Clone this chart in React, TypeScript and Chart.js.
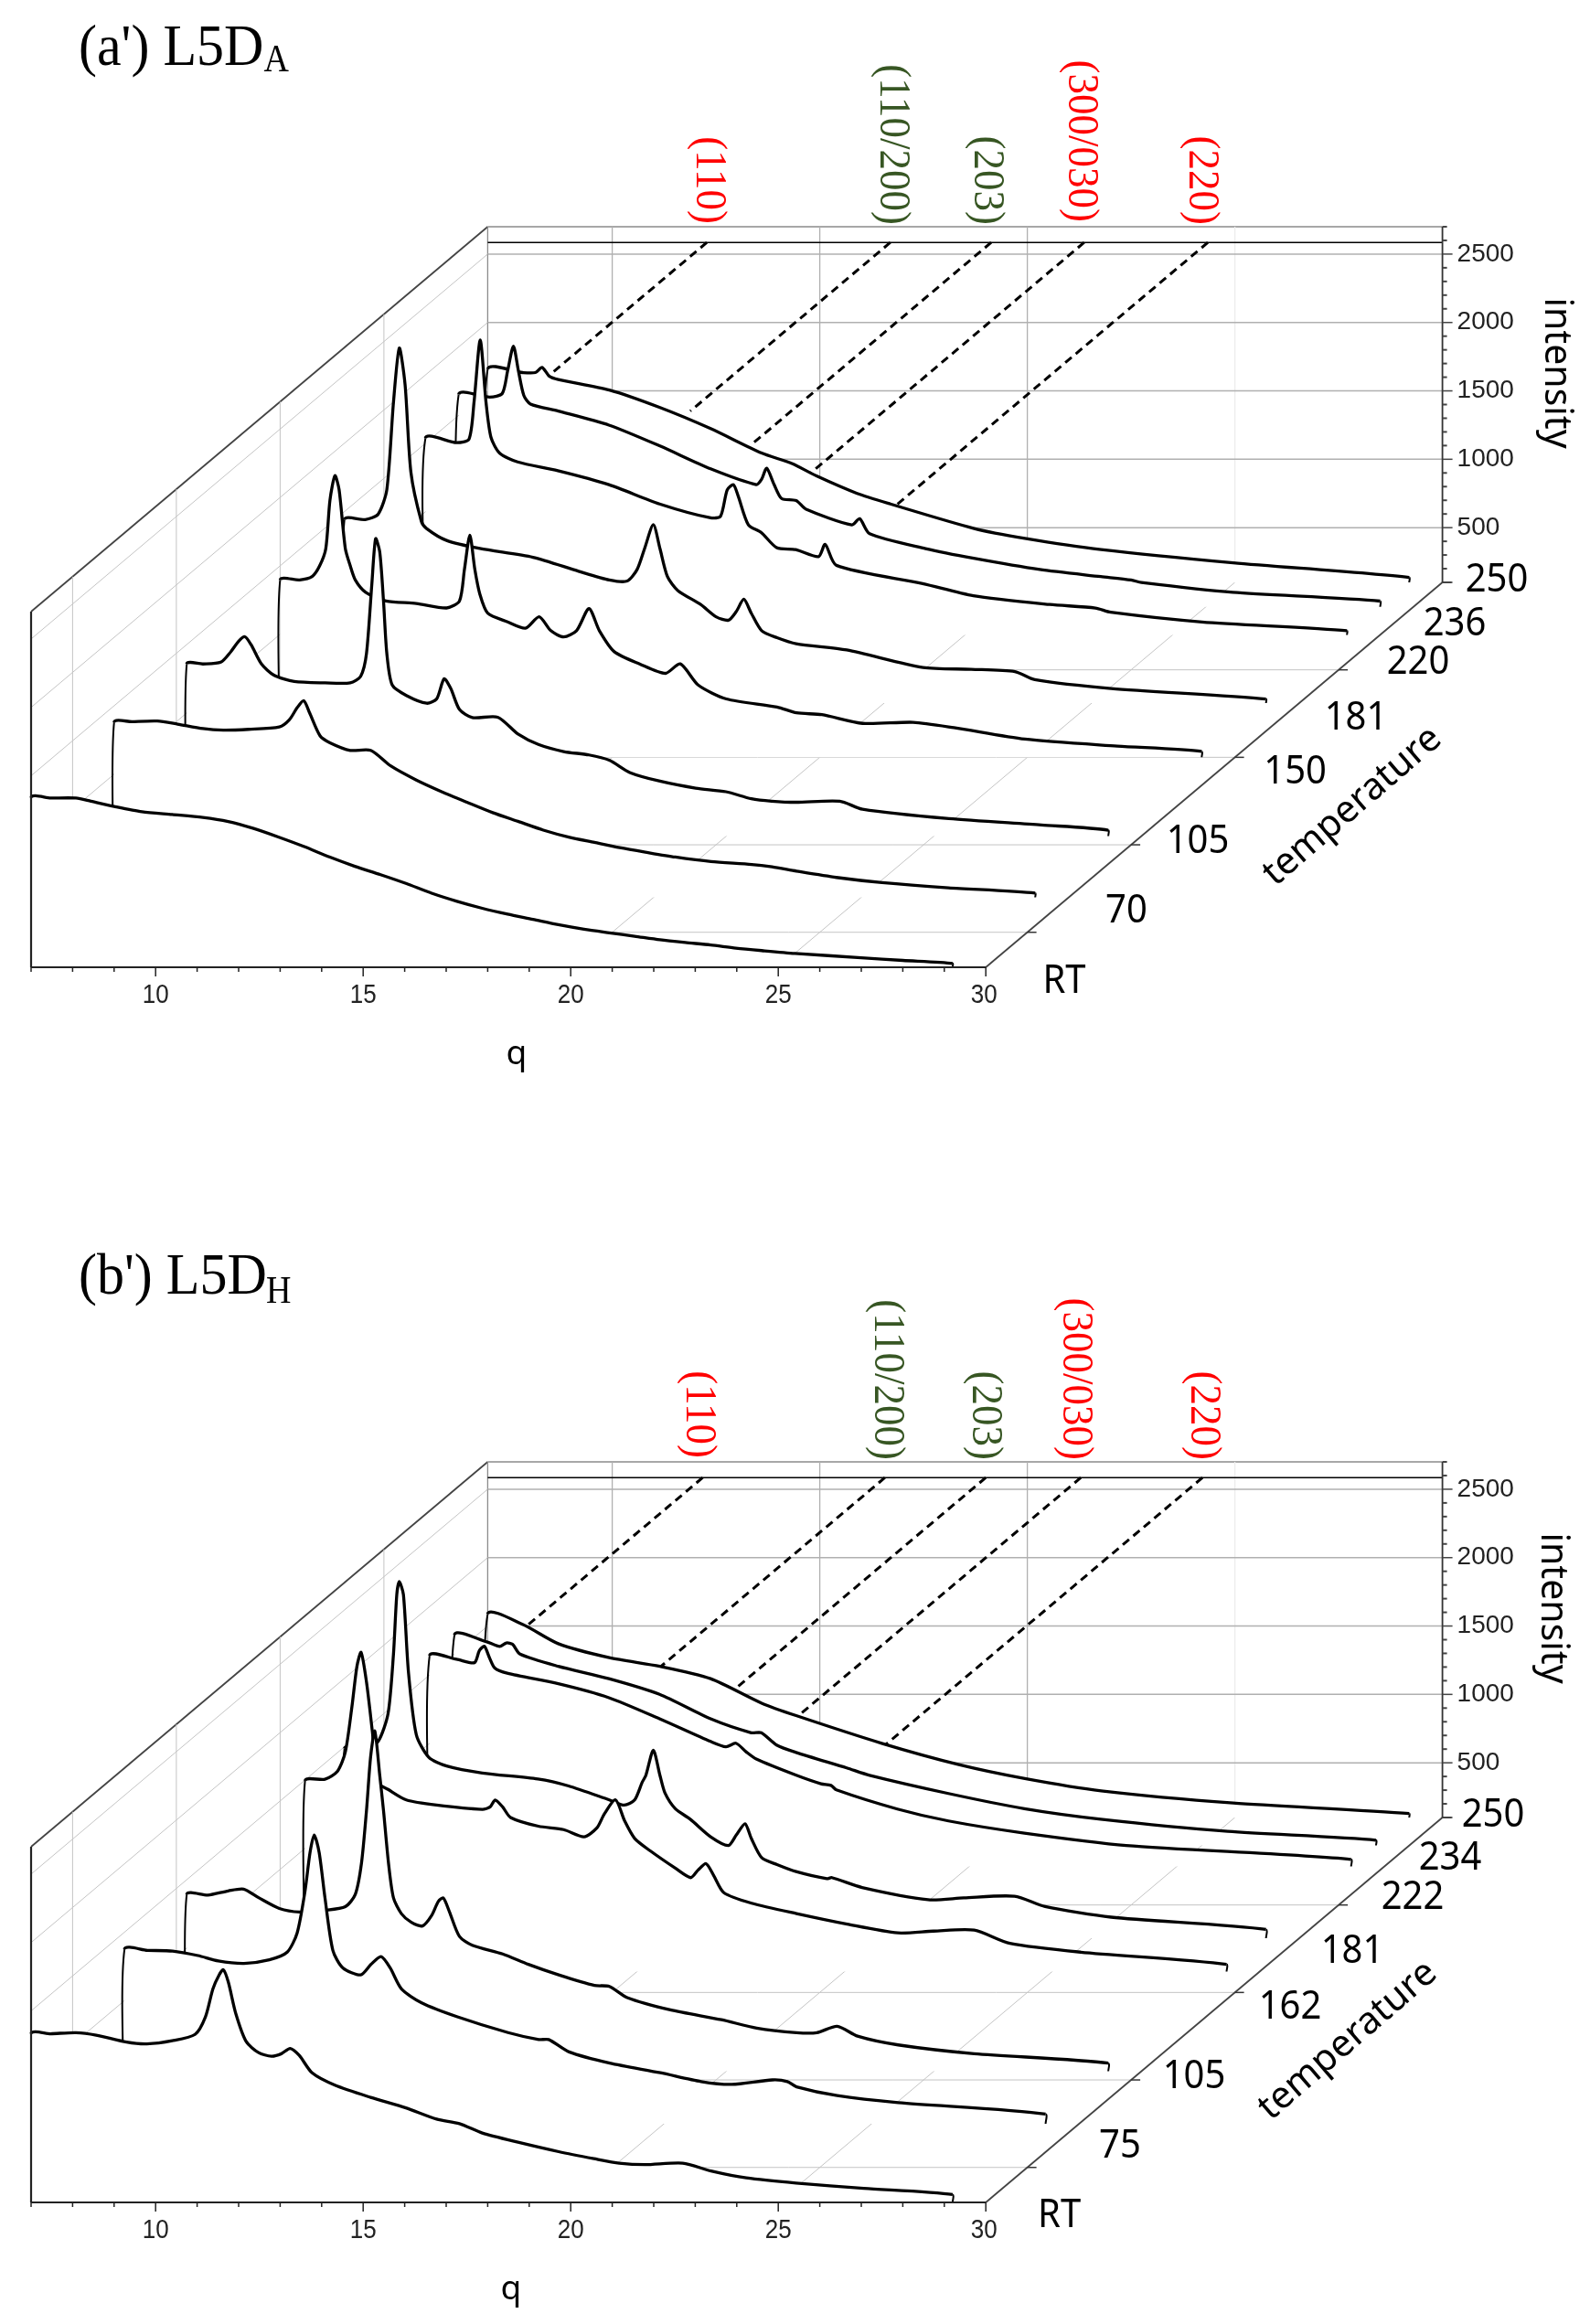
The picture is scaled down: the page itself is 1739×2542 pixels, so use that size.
import React, { useEffect, useRef } from "react";
import { Chart, registerables } from "chart.js";
Chart.register(...registerables);

type P = [number, number];

// ---------- axis values ----------
const Q_MIN = 7, Q_MAX = 30, I_MIN = 100, I_MAX = 2700, T_MIN = 30, T_MAX = 250;
const Q_DEPTH = 11;      // q units the back wall is shifted by
const I_DEPTH = 2814;    // intensity units the back wall is shifted by
const Q_TICKS = [10, 15, 20, 25, 30];
const I_TICKS = [500, 1000, 1500, 2000, 2500];
const T_GRID = [50, 100, 150, 200];
const GUIDE_I = 2585;

// ---------- panel a series: [q, intensity] ----------
const A_RT: P[] = [[7,1340],[7.47,1337],[8.08,1337],[8.44,1314],[9,1276],[9.67,1237],[10.4,1217],[11.14,1196],[11.75,1166],[12.36,1115],[12.97,1051],[13.58,982],[14.2,905],[14.8,838],[15.42,777],[16.03,713],[16.65,641],[17.26,582],[17.87,531],[18.48,488],[19.09,450],[19.7,411],[20.32,378],[20.93,352],[21.54,327],[22.15,301],[22.76,281],[23.37,263],[23.98,240],[24.6,222],[25.4,201],[27,170],[28,150],[29.2,128]];
const A_70: P[] = [[7,1379],[7.43,1384],[8.04,1389],[8.53,1366],[9.14,1333],[9.63,1322],[10.24,1328],[10.98,1345],[11.22,1397],[11.41,1486],[11.57,1537],[11.71,1448],[11.96,1281],[12.2,1230],[12.69,1174],[13.18,1174],[13.67,1059],[14.28,957],[14.89,872],[15.5,795],[16.12,719],[16.73,655],[17.34,591],[17.95,540],[18.57,501],[19.18,463],[19.8,430],[20.52,394],[21.38,361],[22.36,340],[22.85,322],[23.44,291],[24.4,245],[25.5,207],[27.1,169],[29.19,130]];
const A_105: P[] = [[7,1358],[7.39,1358],[7.82,1371],[8.06,1447],[8.25,1524],[8.4,1557],[8.55,1499],[8.8,1358],[9.1,1276],[9.59,1230],[10.33,1220],[10.94,1220],[11.19,1268],[11.33,1435],[11.46,1946],[11.55,2274],[11.65,2176],[11.74,1818],[11.82,1435],[11.95,1204],[12.29,1128],[12.78,1071],[13.02,1102],[13.2,1250],[13.36,1179],[13.57,1025],[13.88,966],[14.49,969],[14.98,846],[15.47,770],[16.08,718],[16.69,693],[17.18,654],[17.67,565],[18.4,501],[19.26,450],[19.99,424],[20.6,373],[21.09,355],[21.68,347],[22.73,355],[23.28,296],[25.36,227],[27.59,181],[29.2,143]];
const A_150: P[] = [[7,1397],[7.47,1397],[7.77,1422],[7.95,1499],[8.1,1627],[8.2,1980],[8.32,2159],[8.42,2057],[8.57,1627],[8.69,1499],[8.81,1397],[9.06,1307],[9.55,1243],[10.28,1225],[11.01,1192],[11.32,1243],[11.44,1474],[11.57,1724],[11.69,1474],[11.81,1294],[12,1154],[12.48,1090],[12.91,1044],[13.24,1128],[13.52,1026],[13.83,980],[14.14,1026],[14.44,1187],[14.69,1026],[15.05,872],[15.66,783],[16.28,714],[16.64,783],[17.07,629],[17.75,527],[18.97,468],[19.44,425],[20.05,412],[21.03,348],[22.25,356],[23.23,317],[24.94,233],[27.17,182],[29.2,143]];
const A_181: P[] = [[7,1442],[7.5,1442],[7.81,1481],[8.02,1660],[8.18,2299],[8.32,2696],[8.46,2427],[8.6,1788],[8.85,1430],[8.97,1378],[9.46,1289],[10.26,1230],[11.54,1166],[12.64,1064],[13.38,1000],[13.81,992],[14.05,1077],[14.23,1230],[14.44,1404],[14.6,1230],[14.78,1025],[15.03,923],[15.58,821],[15.95,731],[16.25,706],[16.44,770],[16.62,859],[16.8,757],[17.05,629],[17.42,578],[17.88,534],[19.1,488],[20.94,360],[22.1,347],[23.15,330],[23.63,271],[25.47,207],[29.2,130]];
const A_220: P[] = [[7,1538],[7.75,1505],[8.05,1531],[8.17,1799],[8.32,2255],[8.46,1799],[8.58,1543],[8.79,1428],[9.22,1364],[10.19,1300],[11.42,1198],[12.64,1057],[13.87,955],[14.11,968],[14.27,1160],[14.42,1198],[14.54,1109],[14.78,904],[15.09,848],[15.46,738],[15.92,723],[16.47,672],[16.63,762],[16.9,608],[18.98,475],[20.2,386],[22.04,322],[23.14,296],[23.51,265],[25.71,194],[29.2,130]];
const A_236: P[] = [[7,1652],[7.75,1634],[8.05,1659],[8.18,1825],[8.32,2005],[8.44,1825],[8.57,1646],[8.73,1583],[9.4,1531],[10.62,1429],[11.85,1276],[13.07,1109],[14.17,994],[14.3,1033],[14.42,1114],[14.6,994],[14.78,892],[15.13,877],[15.37,814],[16.47,699],[16.66,745],[16.9,635],[18.25,526],[19.41,455],[21,373],[22.47,321],[23.2,296],[23.45,278],[25.65,206],[29.2,142]];
const A_250: P[] = [[7,1659],[7.84,1634],[8.15,1634],[8.31,1672],[8.48,1608],[8.7,1583],[9.93,1506],[11.15,1378],[12.37,1224],[13.6,1045],[14.33,969],[14.92,878],[15.9,750],[16.7,673],[18.72,494],[19.94,422],[21.78,340],[24.96,243],[29.2,136]];

// ---------- panel b series: [q, intensity] ----------
const B_RT: P[] = [[7,1333],[7.47,1333],[8.08,1341],[8.57,1323],[9.3,1272],[9.79,1259],[10.4,1282],[10.95,1328],[11.2,1456],[11.38,1661],[11.53,1763],[11.63,1801],[11.75,1712],[11.93,1482],[12.18,1277],[12.48,1195],[12.79,1169],[13.03,1187],[13.24,1226],[13.46,1175],[13.77,1047],[14.32,957],[15.18,868],[16.03,791],[16.77,709],[17.32,676],[17.87,607],[18.73,540],[19.71,471],[20.56,420],[21.17,387],[21.79,376],[22.7,387],[23.38,330],[24.23,279],[25.43,241],[27.06,203],[29.2,157]];
const B_75: P[] = [[7,1375],[7.55,1367],[8.16,1362],[8.77,1329],[9.26,1290],[9.88,1272],[10.49,1298],[10.92,1354],[11.16,1495],[11.35,1802],[11.47,2083],[11.57,2211],[11.69,2083],[11.83,1751],[12.02,1367],[12.26,1239],[12.69,1188],[12.94,1265],[13.18,1321],[13.4,1239],[13.67,1086],[14.16,983],[15.02,881],[16.24,766],[16.98,715],[17.22,715],[17.71,625],[18.69,543],[19.91,472],[20.89,408],[21.63,387],[22.61,420],[22.97,408],[23.19,369],[24.17,305],[25.64,254],[29.19,170]];
const B_105: P[] = [[7,1392],[7.51,1387],[8,1418],[8.37,1431],[8.74,1367],[9.23,1290],[9.72,1264],[10.33,1277],[10.82,1303],[11.06,1392],[11.21,1622],[11.33,2006],[11.43,2400],[11.53,2587],[11.65,2262],[11.74,2006],[11.86,1622],[11.98,1367],[12.17,1252],[12.41,1188],[12.68,1162],[12.9,1239],[13.06,1341],[13.18,1367],[13.33,1264],[13.57,1085],[13.88,1021],[14.61,957],[15.23,881],[15.96,804],[16.82,727],[17.18,720],[17.61,638],[18.65,548],[19.88,476],[20.73,415],[21.69,382],[22.18,382],[22.67,428],[23.16,356],[24.14,292],[25.97,228],[29.2,159]];
const B_162: P[] = [[7,1494],[7.48,1505],[7.78,1563],[7.97,1704],[8.13,2037],[8.25,2331],[8.35,2433],[8.48,2216],[8.62,1858],[8.76,1479],[9,1431],[9.44,1354],[10.17,1316],[11.27,1285],[11.46,1303],[11.58,1354],[11.76,1303],[11.95,1226],[12.62,1162],[13.23,1137],[13.72,1085],[14.03,1149],[14.21,1252],[14.48,1354],[14.7,1200],[14.94,1073],[15.31,983],[15.92,855],[16.29,786],[16.47,842],[16.66,888],[16.84,804],[17.09,676],[17.76,599],[18.84,523],[20.06,446],[21.28,382],[22.14,395],[23.12,402],[23.98,305],[25.69,241],[29.2,152]];
const B_181: P[] = [[7,1487],[7.5,1487],[7.81,1538],[8.05,1743],[8.18,2177],[8.26,2612],[8.32,2707],[8.42,2612],[8.54,2049],[8.73,1589],[9.03,1423],[9.46,1359],[10.32,1308],[11.66,1264],[12.4,1213],[13.38,1111],[13.74,1073],[13.99,1111],[14.17,1239],[14.26,1290],[14.44,1474],[14.6,1290],[14.72,1162],[14.97,1047],[15.33,970],[15.82,842],[16.25,778],[16.44,855],[16.65,937],[16.8,830],[17.05,689],[17.42,638],[17.88,587],[18.62,535],[18.74,543],[19.47,471],[21.06,382],[21.92,395],[23.14,407],[23.88,331],[25.47,254],[29.2,164]];
const B_222: P[] = [[7,1641],[7.65,1615],[8.08,1590],[8.2,1679],[8.32,1710],[8.44,1628],[8.57,1551],[8.87,1513],[10.1,1436],[11.32,1334],[12.54,1180],[13.77,1014],[14.14,975],[14.38,1001],[14.63,937],[14.87,886],[15.82,769],[16.43,705],[16.67,693],[16.8,660],[18.27,520],[19.5,433],[21.33,344],[23.78,254],[29.2,152]];
const B_234: P[] = [[7,1640],[7.78,1589],[8.09,1556],[8.25,1581],[8.4,1571],[8.58,1499],[9.5,1410],[10.72,1320],[11.94,1205],[13.17,1026],[14.15,924],[14.39,924],[14.76,834],[15.23,780],[16.45,667],[17,613],[18.9,480],[20.73,369],[22.57,292],[25.63,203],[29.2,139]];
const B_250: P[] = [[7,1588],[7.84,1512],[8.7,1371],[9.93,1269],[11.15,1205],[12.37,1115],[13.6,936],[14.43,845],[16.51,641],[18.35,487],[19.94,385],[21.78,295],[24.96,206],[29.2,129]];

// ---------- temperatures and labels ----------
const A_TEMPS = [30, 70, 105, 150, 181, 220, 236, 250];
const B_TEMPS = [30, 75, 105, 162, 181, 222, 234, 250];
const A_TEMP_LABELS = ["RT", "70", "105", "150", "181", "220", "236", "250"];
const B_TEMP_LABELS = ["RT", "75", "105", "162", "181", "222", "234", "250"];
const A_SERIES = [A_RT, A_70, A_105, A_150, A_181, A_220, A_236, A_250];
const B_SERIES = [B_RT, B_75, B_105, B_162, B_181, B_222, B_234, B_250];

const PEAK_LABELS = ["(110)", "(110/200)", "(203)", "(300/030)", "(220)"];
const PEAK_COLORS = ["#ff0000", "#375623", "#375623", "#ff0000", "#ff0000"];
const A_PEAK_Q = [12.28, 16.7, 19.13, 21.37, 24.35];
const A_PEAK_END_T = [173.9, 153.6, 134, 116.9, 97.5];
const B_PEAK_Q = [12.18, 16.57, 19.0, 21.29, 24.22];
const B_PEAK_END_T = [165.5, 142.2, 128.3, 113.8, 97.5];

// ---------- layout (pixels) ----------
const PX_LEFT = 34, PX_RIGHT = 1577.6, PX_TOP = 248, PX_BOTTOM = 1058, W = 1739;
const A_H = 1351, B_H = 1191, B_TOP = 1351;
const A_TEMP_POS: P[] = [[1164,1074],[1232,997],[1310,921],[1416.6,845],[1483,785.5],[1551,725],[1591,683],[1637,635]];
const B_TEMP_POS: P[] = [[1158.6,1073],[1225,997],[1306,921],[1411,845],[1479,784],[1545,725],[1586,682],[1633,635]];
const A_PEAK_POS: P[] = [[775,245],[976,246],[1079,246],[1182,243],[1314,246]];
const B_PEAK_POS: P[] = [[764,244],[970,246],[1077,246],[1176,246],[1316,246]];

const GRID = "#c4c4c4", WALL = "#b0b0b0", EDGE = "#444444";
const SERIF = '"Liberation Serif", serif', SANS = '"Liberation Sans", sans-serif', NOTO = '"Noto Sans", sans-serif';
const CURVE_W = 3.3;

// oblique projection into the chart's x / y scales
const fracT = (t: number) => (t - T_MIN) / (T_MAX - T_MIN);
const proj = (q: number, i: number, t: number) => ({ x: q + fracT(t) * Q_DEPTH, y: i + fracT(t) * I_DEPTH });

type Panel = {
  title: string; sub: string; titleBase: number; subBase: number; subX: number;
  temps: number[]; tempLabels: string[]; series: P[][]; tempPos: P[];
  peakQ: number[]; peakEnd: number[]; peakPos: P[];
  qLabel: P; intensityX: number; intensityY: number; tempAxis: P;
};

const PANEL_A: Panel = {
  title: "(a') L5D", sub: "A", titleBase: 71, subBase: 78, subX: 288.6,
  temps: A_TEMPS, tempLabels: A_TEMP_LABELS, series: A_SERIES, tempPos: A_TEMP_POS,
  peakQ: A_PEAK_Q, peakEnd: A_PEAK_END_T, peakPos: A_PEAK_POS,
  qLabel: [565, 1153], intensityX: 1702, intensityY: 408, tempAxis: [1479, 882],
};
const PANEL_B: Panel = {
  title: "(b') L5D", sub: "H", titleBase: 64, subBase: 73.6, subX: 291,
  temps: B_TEMPS, tempLabels: B_TEMP_LABELS, series: B_SERIES, tempPos: B_TEMP_POS,
  peakQ: B_PEAK_Q, peakEnd: B_PEAK_END_T, peakPos: B_PEAK_POS,
  qLabel: [559, 1153], intensityX: 1698, intensityY: 408, tempAxis: [1474, 881],
};

function seg(a: { x: number; y: number }, b: { x: number; y: number }, color: string, width: number, order: number, dash?: number[]) {
  return {
    data: [a, b], showLine: true, pointRadius: 0, borderColor: color, borderWidth: width,
    borderDash: dash || [], order, clip: false as const, fill: false, tension: 0,
  };
}

function buildDatasets(p: Panel) {
  const ds: any[] = [];
  // back wall
  I_TICKS.forEach((i) => ds.push(seg(proj(Q_MIN, i, T_MAX), proj(Q_MAX, i, T_MAX), WALL, 1.5, 100)));
  Q_TICKS.slice(0, 4).forEach((q) =>
    ds.push(seg(proj(q, I_MIN, T_MAX), proj(q, I_MAX, T_MAX), q === 25 ? "#ececec" : WALL, 1.3, 100)));
  ds.push(seg(proj(Q_MIN, I_MIN, T_MAX), proj(Q_MIN, I_MAX, T_MAX), "#8a8a8a", 1.3, 100));
  ds.push(seg(proj(Q_MIN, I_MAX, T_MAX), proj(Q_MAX, I_MAX, T_MAX), "#8a8a8a", 1.5, 100));
  // left wall
  I_TICKS.forEach((i) => ds.push(seg(proj(Q_MIN, i, T_MIN), proj(Q_MIN, i, T_MAX), GRID, 1, 100)));
  T_GRID.forEach((t) => ds.push(seg(proj(Q_MIN, I_MIN, t), proj(Q_MIN, I_MAX, t), GRID, 1, 100)));
  // floor
  T_GRID.forEach((t) => ds.push(seg(proj(Q_MIN, I_MIN, t), proj(Q_MAX, I_MIN, t), GRID, 1, 100)));
  Q_TICKS.slice(0, 4).forEach((q) => ds.push(seg(proj(q, I_MIN, T_MIN), proj(q, I_MIN, T_MAX), GRID, 1, 100)));
  // guide line and dashes
  ds.push(seg(proj(Q_MIN, GUIDE_I, T_MAX), proj(Q_MAX, GUIDE_I, T_MAX), "#000000", 1.6, 90));
  p.peakQ.forEach((q, k) => ds.push(seg(proj(q, GUIDE_I, T_MAX), proj(q, GUIDE_I, p.peakEnd[k]), "#000000", 3, 90, [9, 6])));
  // curves, back to front, each hiding what is behind it
  p.series.forEach((pts, k) => {
    const t = p.temps[k];
    const first = pts[0][0], last = pts[pts.length - 1][0];
    const all: P[] = [[first, I_MIN], ...pts, [last, I_MIN]];
    ds.push({
      label: p.tempLabels[k],
      data: all.map(([q, i]) => proj(q, i, t)),
      showLine: true, pointRadius: 0, borderColor: "#000000", borderWidth: CURVE_W,
      tension: 0.25, clip: false, order: k + 1,
      fill: { value: proj(Q_MIN, I_MIN, t).y }, backgroundColor: "#ffffff",
      borderJoinStyle: "round",
      segment: { borderWidth: (c: any) => (c.p0.parsed.x === c.p1.parsed.x ? 2 : CURVE_W) },
    });
  });
  // outer edges
  ds.push(seg(proj(Q_MIN, I_MIN, T_MIN), proj(Q_MIN, I_MAX, T_MIN), "#222222", 2.2, 0));
  ds.push(seg(proj(Q_MIN, I_MAX, T_MIN), proj(Q_MIN, I_MAX, T_MAX), EDGE, 1.8, 100));
  ds.push(seg(proj(Q_MIN, I_MIN, T_MIN), proj(Q_MAX, I_MIN, T_MIN), "#222222", 2, 0));
  ds.push(seg(proj(Q_MAX, I_MIN, T_MIN), proj(Q_MAX, I_MIN, T_MAX), EDGE, 1.8, 0));
  ds.push(seg(proj(Q_MAX, I_MIN, T_MAX), proj(Q_MAX, I_MAX, T_MAX), "#333333", 1.8, 0));
  return ds;
}

function textPlugin(p: Panel) {
  return {
    id: "panelText",
    afterDraw(chart: any) {
      const ctx = chart.ctx, sx = chart.scales.x, sy = chart.scales.y;
      const px = (q: number, i: number, t: number) => {
        const v = proj(q, i, t);
        return [sx.getPixelForValue(v.x), sy.getPixelForValue(v.y)];
      };
      const tall = (s: string, x: number, y: number, stretch: number) => {
        ctx.save();
        ctx.translate(x, y);
        ctx.scale(1, stretch);
        ctx.fillText(s, 0, 0);
        ctx.restore();
      };
      ctx.save();
      // title
      ctx.fillStyle = "#000";
      ctx.textAlign = "left"; ctx.textBaseline = "alphabetic";
      ctx.font = `60px ${SERIF}`;
      tall(p.title, 86, p.titleBase, 1.06);
      ctx.font = `38px ${SERIF}`;
      tall(p.sub, p.subX, p.subBase, 1.1);
      // peak labels, turned a quarter clockwise
      p.peakPos.forEach(([x, y], k) => {
        ctx.save();
        ctx.translate(x, y);
        ctx.rotate(Math.PI / 2);
        ctx.scale(1, 1.08);
        ctx.font = `45px ${SERIF}`;
        ctx.fillStyle = PEAK_COLORS[k];
        ctx.textAlign = "right"; ctx.textBaseline = "middle";
        ctx.fillText(PEAK_LABELS[k], 0, 0);
        ctx.restore();
      });
      // q axis ticks
      ctx.strokeStyle = "#222"; ctx.lineWidth = 1.5;
      for (let q = Q_MIN; q <= Q_MAX; q++) {
        const [x, y] = px(q, I_MIN, T_MIN);
        ctx.beginPath(); ctx.moveTo(x, y); ctx.lineTo(x, y + (q % 5 === 0 ? 10 : 5)); ctx.stroke();
      }
      ctx.font = `26px ${SANS}`;
      ctx.fillStyle = "#222"; ctx.textAlign = "center"; ctx.textBaseline = "middle";
      Q_TICKS.forEach((q) => {
        const [x, y] = px(q, I_MIN, T_MIN);
        tall(String(q), q === 30 ? x - 2 : x, y + 31, 1.12);
      });
      // intensity axis ticks
      ctx.strokeStyle = "#444";
      for (let i = I_MIN; i <= I_MAX; i += 100) {
        const [x, y] = px(Q_MAX, i, T_MAX);
        const major = i % 500 === 0 || i === I_MIN;
        ctx.lineWidth = major ? 1.5 : 2;
        ctx.beginPath(); ctx.moveTo(x, y); ctx.lineTo(x + (major ? 11 : 5), y); ctx.stroke();
      }
      ctx.font = `28px ${SANS}`;
      ctx.fillStyle = "#222"; ctx.textAlign = "left";
      I_TICKS.forEach((i) => {
        const [x, y] = px(Q_MAX, i, T_MAX);
        ctx.fillText(String(i), x + 16, y);
      });
      // temperature axis ticks
      ctx.strokeStyle = "#333"; ctx.lineWidth = 1.5;
      [...T_GRID, T_MAX].forEach((t) => {
        const [x, y] = px(Q_MAX, I_MIN, t);
        ctx.beginPath(); ctx.moveTo(x, y); ctx.lineTo(x + 10, y); ctx.stroke();
      });
      ctx.fillStyle = "#000"; ctx.textAlign = "center";
      ctx.font = `40px ${NOTO}`;
      p.tempPos.forEach(([x, y], k) => tall(p.tempLabels[k], x, y, 1.08));
      // axis names
      ctx.font = `37px ${NOTO}`;
      ctx.fillText("q", p.qLabel[0], p.qLabel[1]);
      ctx.save();
      ctx.translate(p.tempAxis[0], p.tempAxis[1]);
      ctx.rotate((-40.8 * Math.PI) / 180);
      ctx.font = `41px ${NOTO}`;
      ctx.fillText("temperature", 0, 0);
      ctx.restore();
      ctx.save();
      ctx.translate(p.intensityX, p.intensityY);
      ctx.rotate(Math.PI / 2);
      ctx.font = `41px ${NOTO}`;
      ctx.fillText("intensity", 0, 0);
      ctx.restore();
      ctx.restore();
    },
  };
}

function PanelChart({ panel, height, top }: { panel: Panel; height: number; top: number }) {
  const ref = useRef<HTMLCanvasElement | null>(null);
  useEffect(() => {
    if (!ref.current) return;
    const chart = new Chart(ref.current, {
      type: "scatter",
      data: { datasets: buildDatasets(panel) },
      options: {
        animation: false, responsive: false, devicePixelRatio: 1,
        layout: { padding: { left: PX_LEFT, right: W - PX_RIGHT, top: PX_TOP, bottom: height - PX_BOTTOM } },
        plugins: { legend: { display: false }, tooltip: { enabled: false } },
        scales: {
          x: { type: "linear", display: false, min: Q_MIN, max: Q_MAX + Q_DEPTH },
          y: { type: "linear", display: false, min: I_MIN, max: I_MAX + I_DEPTH },
        },
      },
      plugins: [textPlugin(panel)],
    } as any);
    return () => chart.destroy();
  }, [panel, height]);
  return <canvas ref={ref} width={W} height={height} style={{ position: "absolute", left: 0, top, display: "block" }} />;
}

export default function App() {
  return (
    <div style={{ position: "absolute", left: 0, top: 0, width: W, height: A_H + B_H, background: "#fff" }}>
      <PanelChart panel={PANEL_A} height={A_H} top={0} />
      <PanelChart panel={PANEL_B} height={B_H} top={B_TOP} />
    </div>
  );
}
